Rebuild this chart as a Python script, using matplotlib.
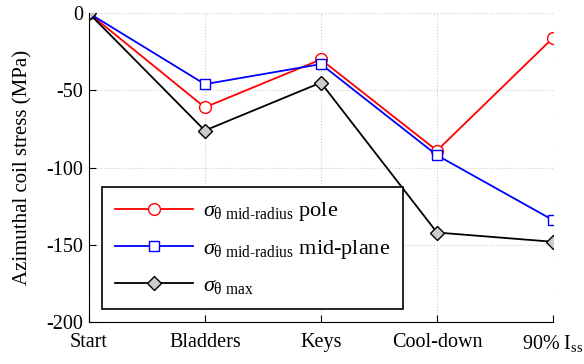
import numpy as np
import matplotlib
matplotlib.use("Agg")
import matplotlib.pyplot as plt

stages = ["Start", "Bladders", "Keys", "Cool-down", r"90% I$_{\mathregular{ss}}$"]
pole = [0, -61, -30, -89, -16]
midplane = [0, -46, -33, -92, -134]
smax = [0, -76, -45, -142, -148]

plt.rcParams.update({'font.size': 14.5, 'font.family': 'Liberation Serif',
                     'axes.unicode_minus': False,
                     'mathtext.fontset': 'custom', 'mathtext.rm': 'Liberation Serif',
                     'mathtext.it': 'Liberation Serif:italic', 'mathtext.bf': 'Liberation Serif:bold'})

fig = plt.figure(figsize=(5.84, 3.64), dpi=100)
ax = fig.add_axes([0.152, 0.115, 0.795, 0.849])

x = np.arange(len(stages))
ax.plot(x, pole, color='red', marker='o', mfc='white', ms=8.5, lw=1.3,
        label=r'$\sigma_{\mathregular{θ\ mid}\text{-}\mathregular{radius}}$ pole')
ax.plot(x, midplane, color='blue', marker='s', mfc='white', ms=7.5, lw=1.3,
        label=r'$\sigma_{\mathregular{θ\ mid}\text{-}\mathregular{radius}}$ mid-plane')
ax.plot(x, smax, color='black', marker='D', mfc='#cccccc', ms=7, lw=1.3,
        label=r'$\sigma_{\mathregular{θ\ max}}$')

ax.set_xlim(0, 4)
ax.set_ylim(-200, 0)
ax.set_yticks([-200, -150, -100, -50, 0])
ax.set_xticks(x)
ax.set_xticklabels(stages)
ax.set_ylabel("Azimuthal coil stress (MPa)", fontsize=15, labelpad=10)
ax.grid(True, color='#cccccc', linestyle=':', linewidth=0.8)
ax.set_axisbelow(True)
for s in ['top', 'right']:
    ax.spines[s].set_visible(False)
ax.tick_params(direction='in', length=5)
ax.tick_params(axis='x', pad=8)
ax.tick_params(axis='y', pad=4)

leg = ax.legend(loc='lower left', bbox_to_anchor=(0.028, 0.042, 0.649, 0.392), mode='expand',
                fancybox=False, framealpha=1, edgecolor='black', handlelength=3.5,
                handletextpad=0.45, borderpad=0.6,
                borderaxespad=0, labelspacing=0.65, fontsize=16)
leg.get_frame().set_linewidth(1.2)

fig.savefig("out.png", dpi=100)
